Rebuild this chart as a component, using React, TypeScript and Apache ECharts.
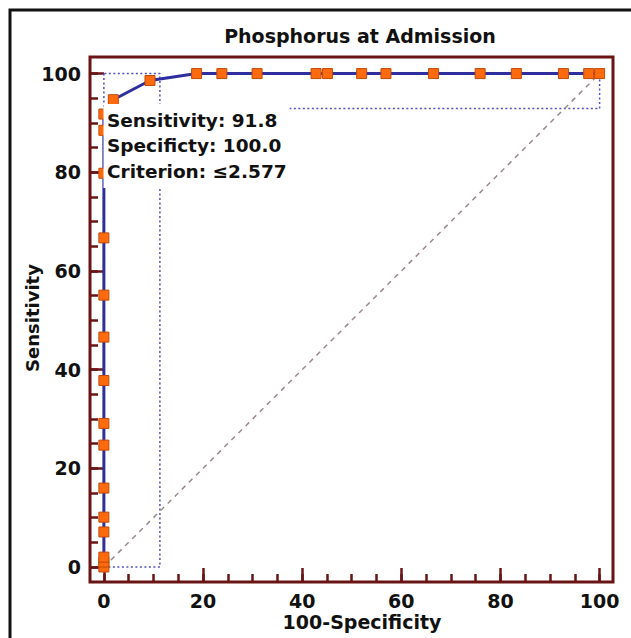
import React, { useEffect, useRef } from "react";
import * as echarts from "echarts";

// ROC curve points: 100-Specificity (x) and Sensitivity (y)
const fpr = [0, 0, 0, 0, 0, 0, 0, 0, 0, 0, 0, 0, 0, 0, 0, 1.9, 9.3, 18.7, 23.8, 30.9, 42.8, 45.1, 52.0, 56.9, 66.5, 75.9, 83.2, 92.7, 97.8, 100];
const sens = [0, 1, 2, 7.1, 10.1, 16.0, 24.7, 29.1, 37.8, 46.6, 55.1, 66.7, 79.8, 88.5, 91.8, 94.7, 98.6, 100, 100, 100, 100, 100, 100, 100, 100, 100, 100, 100, 100, 100];

// Confidence boxes at the optimal criterion
const specCI = [0, 11.3]; // 100-Specificity range
const sensCI = [92.9, 100]; // Sensitivity range

const majorTicks = [0, 20, 40, 60, 80, 100];
const minorTicks = [0, 5, 10, 15, 20, 25, 30, 35, 40, 45, 50, 55, 60, 65, 70, 75, 80, 85, 90, 95, 100];

const infoLines = ["Sensitivity: 91.8", "Specificty: 100.0", "Criterion: \u22642.577"];
const titleText = "Phosphorus at Admission";
const xTitle = "100-Specificity";
const yTitle = "Sensitivity";

const FRAME = "#6a1414";
const FONT = '"DejaVu Sans", Verdana, sans-serif';

export default function App() {
  const ref = useRef<HTMLDivElement>(null);
  useEffect(() => {
    if (!ref.current) return;
    const chart = echarts.init(ref.current, undefined, { renderer: "svg" });
    const xMin = -2.8, xMax = 102.7, yMin = -3.04, yMax = 103.36;
    const baseAxis = (min: number, max: number) => ({
      type: "value" as const,
      min,
      max,
      splitLine: { show: false },
      axisLine: { show: false, onZero: false },
    });
    const major = {
      axisTick: { show: true, inside: true, length: 14, customValues: majorTicks, lineStyle: { color: FRAME, width: 2.5 } },
      axisLabel: {
        show: true,
        customValues: majorTicks,
        margin: 9,
        color: "#111",
        fontSize: 19,
        fontWeight: "bold",
        fontFamily: FONT,
        formatter: (v: number) => String(v),
      },
    };
    const minor = {
      axisTick: { show: true, inside: true, length: 8, customValues: minorTicks, lineStyle: { color: FRAME, width: 2.5 } },
      axisLabel: { show: false },
    };
    const roc = fpr.map((x, i) => [x, sens[i]]);
    const txt = (t: string) => ({ text: t, fill: "#111", fontWeight: "bold", fontFamily: FONT, verticalAlign: "middle" });
    const option: any = {
      animation: false,
      backgroundColor: "#fff",
      grid: { left: 90, top: 57, right: 18, bottom: 56, show: true, borderColor: FRAME, borderWidth: 3, backgroundColor: "#fff" },
      xAxis: [
        { ...baseAxis(xMin, xMax), position: "bottom", ...major },
        { ...baseAxis(xMin, xMax), position: "bottom", ...minor },
      ],
      yAxis: [
        { ...baseAxis(yMin, yMax), position: "left", ...major },
        { ...baseAxis(yMin, yMax), position: "left", ...minor },
      ],
      series: [
        {
          type: "line",
          silent: true,
          symbol: "none",
          data: [[specCI[0], 0], [specCI[1], 0], [specCI[1], 100], [specCI[0], 100]],
          lineStyle: { color: "#5050c0", width: 1.5, type: [2, 2.5] },
        },
        {
          type: "line",
          silent: true,
          symbol: "none",
          data: [[0, sensCI[1]], [0, sensCI[0]], [100, sensCI[0]], [100, sensCI[1]]],
          lineStyle: { color: "#5050c0", width: 1.5, type: [2, 2.5] },
        },
        {
          type: "line",
          silent: true,
          symbol: "none",
          data: [[0, 0], [100, 100]],
          lineStyle: { color: "#9a8a8a", width: 1.5, type: [5, 5] },
        },
        {
          type: "line",
          silent: true,
          symbol: "rect",
          symbolSize: 10,
          data: roc,
          lineStyle: { color: "#2e2e9e", width: 3 },
          itemStyle: { color: "#ff6a0d", borderColor: "#c04a0a", borderWidth: 1 },
        },
      ],
      graphic: [
        {
          type: "rect",
          z: 50,
          silent: true,
          shape: { x: 10, y: 10, width: 700, height: 700 },
          style: { fill: "none", stroke: "#111", lineWidth: 3 },
        },
        { type: "text", z: 50, x: 360, y: 36, style: { ...txt(titleText), fontSize: 19, align: "center" } },
        { type: "text", z: 50, x: 362, y: 622, style: { ...txt(xTitle), fontSize: 19, align: "center" } },
        { type: "text", z: 50, x: 32, y: 318, rotation: Math.PI / 2, style: { ...txt(yTitle), fontSize: 18, align: "center" } },
        { type: "rect", z: 60, silent: true, shape: { x: 103.5, y: 104, width: 186, height: 84 }, style: { fill: "#fff" } },
        ...infoLines.map((t, i) => ({
          type: "text",
          z: 61,
          x: 107,
          y: 120 + i * 25.5,
          style: { ...txt(t), fontSize: 18.5, align: "left" },
        })),
      ],
    };
    chart.setOption(option);
    return () => chart.dispose();
  }, []);
  return <div ref={ref} style={{ position: "fixed", left: 0, top: 0, width: 631, height: 638, background: "#fff" }} />;
}
